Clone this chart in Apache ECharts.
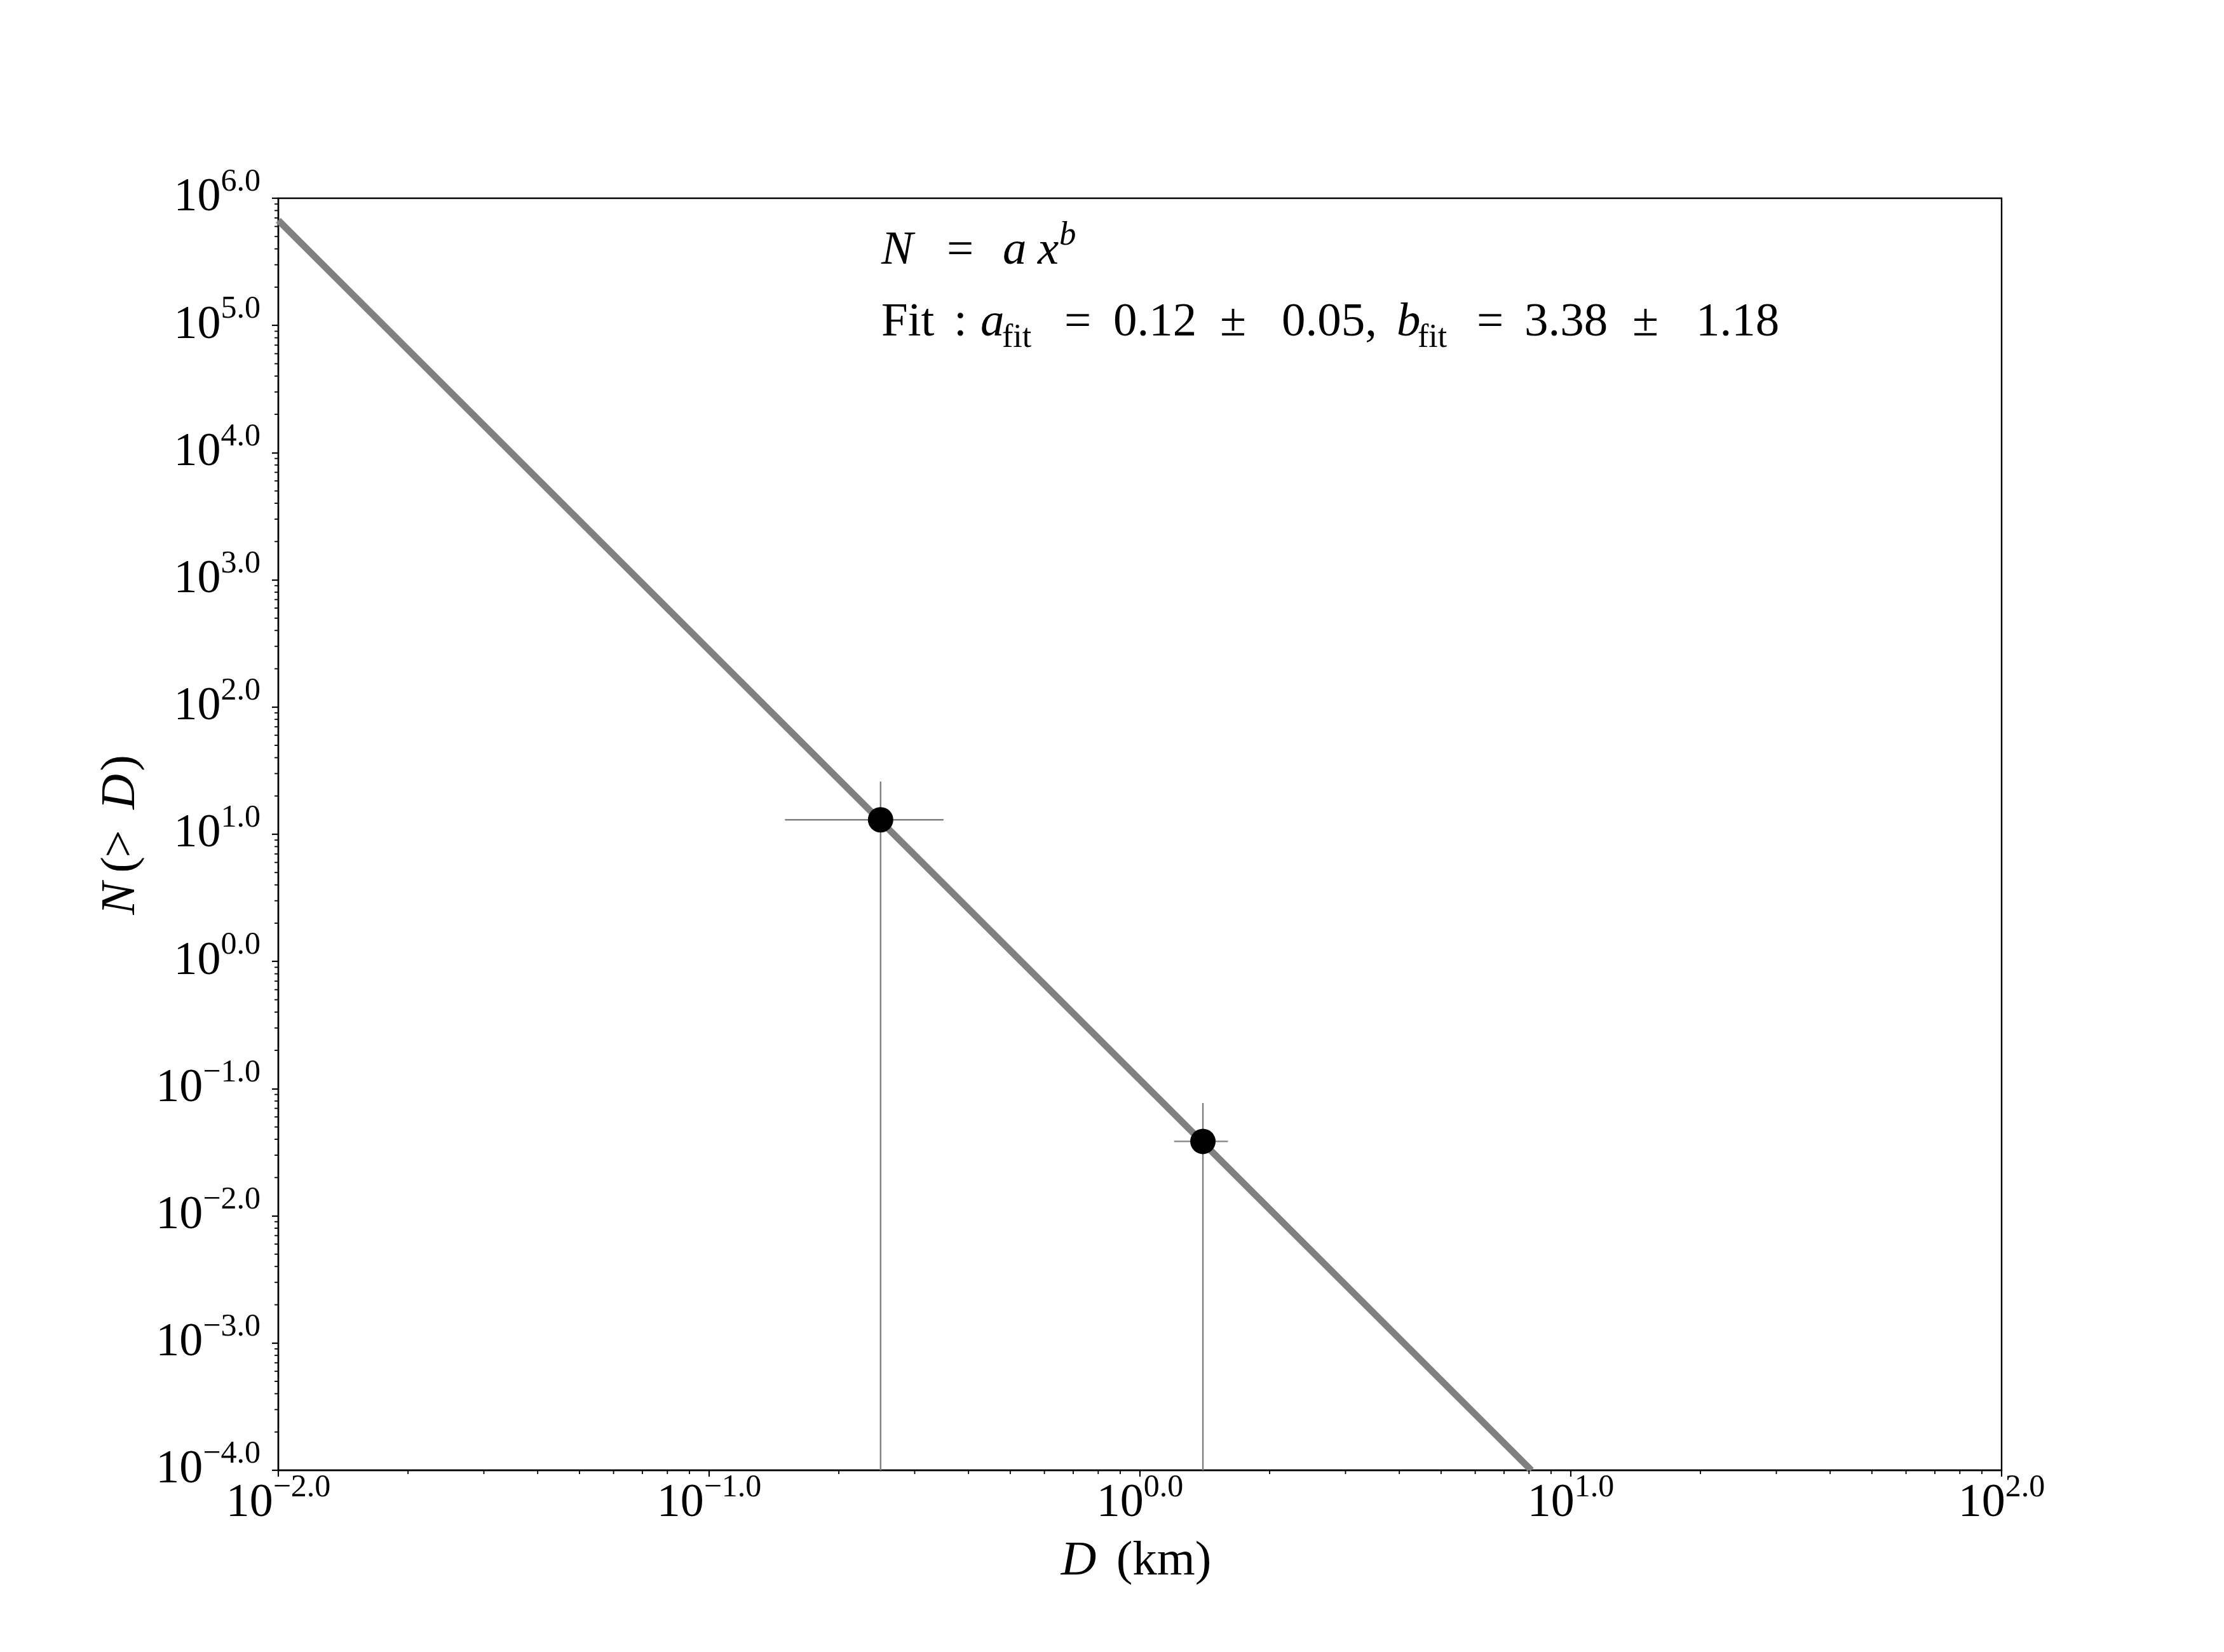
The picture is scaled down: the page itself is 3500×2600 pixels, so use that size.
<!DOCTYPE html>
<html><head><meta charset="utf-8">
<script src="https://cdn.jsdelivr.net/npm/echarts@6/dist/echarts.min.js"></script>
<style>html,body{margin:0;padding:0;background:#fff}#c{width:3500px;height:2600px}</style>
</head><body><div id="c"></div>
<script>
// ---- data ----
const xTicks = [0.01, 0.1, 1, 10, 100];
const yTicks = [1e-4, 1e-3, 1e-2, 1e-1, 1, 10, 100, 1e3, 1e4, 1e5, 1e6];
const pointD = [0.25, 1.40];          // D (km)
const pointN = [13.0, 0.0385];        // N(>D)
const errD   = [0.10, 0.20];
const errN   = [13.0, 0.0385];
const fitD   = [0.01, 8.1];
const fitN   = [6.7e5, 1e-4];

const FONT = "'Liberation Serif', 'DejaVu Serif', serif";
const X_MIN = xTicks[0], X_MAX = xTicks[xTicks.length - 1];
const Y_MIN = yTicks[0], Y_MAX = yTicks[yTicks.length - 1];

function minorOf(ticks) {
  const out = [];
  for (let i = 0; i < ticks.length - 1; i++)
    for (let k = 2; k <= 9; k++) out.push(ticks[i] * k);
  return out;
}
const xMinor = minorOf(xTicks), yMinor = minorOf(yTicks);

function expLabel(v) {
  const e = Math.round(Math.log10(v));
  const s = (e < 0 ? '\u2212' + (-e) : '' + e) + '.0';
  return '{b|10}{s|' + s + '}';
}
const tickRich = {
  b: { fontFamily: FONT, fontSize: 74, lineHeight: 100, color: '#000' },
  s: { fontFamily: FONT, fontSize: 50, lineHeight: 56, verticalAlign: 'top', color: '#000' }
};

// rich-text builder: tokens [text, kind, width, align]
const KINDS = {
  r:   { fontFamily: FONT, fontSize: 75, lineHeight: 100, color: '#000' },
  i:   { fontFamily: FONT, fontSize: 75, lineHeight: 100, fontStyle: 'italic', color: '#000' },
  sup: { fontFamily: FONT, fontSize: 53, lineHeight: 60, fontStyle: 'italic', verticalAlign: 'top', color: '#000' },
  sub: { fontFamily: FONT, fontSize: 52, lineHeight: 64, verticalAlign: 'bottom', color: '#000' },
  tr:  { fontFamily: FONT, fontSize: 77, lineHeight: 100, color: '#000' },
  ti:  { fontFamily: FONT, fontSize: 77, lineHeight: 100, fontStyle: 'italic', color: '#000' }
};
function richText(tokens) {
  const rich = {};
  let text = '';
  tokens.forEach((tk, n) => {
    const name = 's' + n;
    const st = Object.assign({}, KINDS[tk[1]]);
    if (tk[2] != null) { st.width = tk[2]; st.align = tk[3] || 'left'; }
    rich[name] = st;
    text += '{' + name + '|' + tk[0] + '}';
  });
  return { text, rich };
}
const line1 = richText([['N', 'i', 103], ['=', 'r', 88], ['a', 'i', 55], ['x', 'i', 34], ['b', 'sup']]);
const line2 = richText([
  ['Fit', 'r', 114], [':', 'r', 42], ['a', 'i', 34], ['fit', 'sub', 98], ['=', 'r', 77],
  ['0.12', 'r', 168], ['\u00b1', 'r', 97], ['0.05,', 'r', 181], ['b', 'i', 33], ['fit', 'sub', 93],
  ['=', 'r', 75], ['3.38', 'r', 170], ['\u00b1', 'r', 100], ['1.18', 'r']
]);
const xTitle = richText([['D', 'ti', 87], ['(km)', 'tr']]);
const yTitle = richText([['N', 'ti', 66], ['(', 'tr', 24], ['>', 'tr', 76], ['D', 'ti', 60], [')', 'tr']]);

const chart = echarts.init(document.getElementById('c'), null, { renderer: 'canvas' });
const option = {
  backgroundColor: '#fff',
  animation: false,
  grid: { left: 438, right: 350, top: 312, bottom: 286, show: true, borderColor: '#000', borderWidth: 2.4, backgroundColor: 'transparent' },
  xAxis: {
    type: 'log', min: X_MIN, max: X_MAX, interval: 1, logBase: 10,
    axisLine: { show: true, lineStyle: { color: '#000', width: 2.4 } },
    axisTick: { show: true, length: 10, lineStyle: { color: '#000', width: 2.2 } },
    minorTick: { show: false },
    splitLine: { show: false },
    axisLabel: { margin: 3, formatter: expLabel, rich: tickRich }
  },
  yAxis: {
    type: 'log', min: Y_MIN, max: Y_MAX, interval: 1, logBase: 10,
    axisLine: { show: true, lineStyle: { color: '#000', width: 2.4 } },
    axisTick: { show: true, length: 10, lineStyle: { color: '#000', width: 2.2 } },
    minorTick: { show: false },
    splitLine: { show: false },
    axisLabel: { margin: 28, formatter: expLabel, rich: tickRich }
  },
  graphic: [
    { type: 'text', x: 1788, y: 2458, style: { text: xTitle.text, rich: xTitle.rich, align: 'center', verticalAlign: 'middle' } },
    { type: 'text', x: 191, y: 1314, rotation: Math.PI / 2, style: { text: yTitle.text, rich: yTitle.rich, align: 'center', verticalAlign: 'middle' } },
    { type: 'text', x: 1387, y: 345, style: { text: line1.text, rich: line1.rich, align: 'left', verticalAlign: 'top' } },
    { type: 'text', x: 1387, y: 458, style: { text: line2.text, rich: line2.rich, align: 'left', verticalAlign: 'top' } }
  ],
  series: [
    {
      type: 'line', data: fitD.map((d, i) => [d, fitN[i]]), showSymbol: false, symbol: 'none',
      lineStyle: { color: '#808080', width: 10.6, cap: 'butt' }, z: 2, clip: true, silent: true
    },
    {
      type: 'custom', z: 3, silent: true, clip: true,
      data: pointD.map((d, i) => [d, pointN[i], errD[i], errN[i]]),
      renderItem(params, api) {
        const x = api.value(0), y = api.value(1), ex = api.value(2), ey = api.value(3);
        const lo = (y - ey) > Y_MIN ? (y - ey) : Y_MIN;
        const pTop = api.coord([x, y + ey]), pBot = api.coord([x, lo]);
        const pL = api.coord([x - ex, y]), pR = api.coord([x + ex, y]);
        const st = { stroke: '#808080', lineWidth: 2.4 };
        return { type: 'group', children: [
          { type: 'line', shape: { x1: pTop[0], y1: pTop[1], x2: pBot[0], y2: pBot[1] }, style: st },
          { type: 'line', shape: { x1: pL[0], y1: pL[1], x2: pR[0], y2: pR[1] }, style: st }
        ] };
      }
    },
    {
      type: 'scatter', z: 4, data: pointD.map((d, i) => [d, pointN[i]]),
      symbol: 'circle', symbolSize: 40, itemStyle: { color: '#000', opacity: 1 }, silent: true
    },
    {
      type: 'custom', z: 5, silent: true, clip: false,
      data: xMinor.map(v => [v, Y_MIN]),
      renderItem(params, api) {
        const p = api.coord([api.value(0), api.value(1)]);
        return { type: 'line', shape: { x1: p[0], y1: p[1], x2: p[0], y2: p[1] + 6 }, style: { stroke: '#000', lineWidth: 1.8 } };
      }
    },
    {
      type: 'custom', z: 5, silent: true, clip: false,
      data: yMinor.map(v => [X_MIN, v]),
      renderItem(params, api) {
        const p = api.coord([api.value(0), api.value(1)]);
        return { type: 'line', shape: { x1: p[0] - 6, y1: p[1], x2: p[0], y2: p[1] }, style: { stroke: '#000', lineWidth: 1.8 } };
      }
    }
  ]
};
chart.setOption(option);
</script>
</body></html>
